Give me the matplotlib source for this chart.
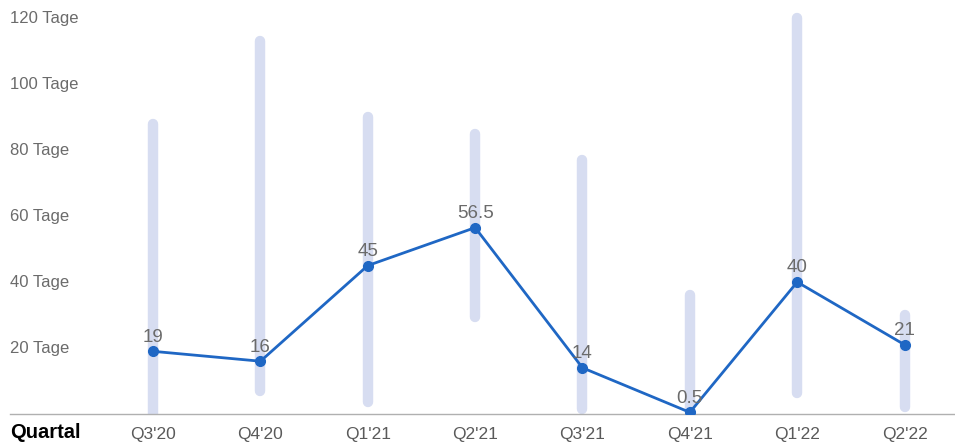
import matplotlib
matplotlib.use("Agg")
import matplotlib.pyplot as plt

plt.rcParams["font.family"] = ["Liberation Sans", "DejaVu Sans"]

# Quarterly median duration with min/max range per quarter
quarters = ["Q3'20", "Q4'20", "Q1'21", "Q2'21", "Q3'21", "Q4'21", "Q1'22", "Q2'22"]
median_days = [19, 16, 45, 56.5, 14, 0.5, 40, 21]
range_low = [0, 7, 3.5, 29.5, 1.5, 0.5, 6.5, 2]
range_high = [88, 113, 90, 85, 77, 36, 120, 30]
y_ticks = [20, 40, 60, 80, 100, 120]

LINE_BLUE = "#1f67c4"
RANGE_COLOR = "#d7ddf1"
LABEL_GREY = "#6b6b6b"

fig = plt.figure(figsize=(9.55, 4.45), dpi=100)
ax = fig.add_axes([10 / 955, (445 - 414) / 445, 945 / 955, 414 / 445])

x = list(range(len(quarters)))

rng = ax.vlines(x, range_low, range_high, color=RANGE_COLOR, linewidth=7.5, zorder=1)
rng.set_capstyle("round")

ax.plot(x, median_days, color=LINE_BLUE, linewidth=2.0, marker="o",
        markersize=7, zorder=3)

for xi, v in zip(x, median_days):
    txt = f"{v:g}"
    ax.annotate(txt, (xi, v), xytext=(0, 4), textcoords="offset points",
                ha="center", va="bottom", fontsize=13.5, color=LABEL_GREY, zorder=4)

ax.set_xlim(-1.333, 7.47)
ax.set_ylim(0, 125.5)

# y labels drawn inside the plot area on the left
for t in y_ticks:
    ax.text(0.0, t, f"{t} Tage", transform=ax.get_yaxis_transform(),
            ha="left", va="center", fontsize=12, color=LABEL_GREY)

ax.set_yticks([])
ax.set_xticks(x)
ax.set_xticklabels(quarters, fontsize=12.5, color="#5a5a5a")
ax.tick_params(axis="x", length=0, pad=9)

for side in ["top", "right", "left"]:
    ax.spines[side].set_visible(False)
ax.spines["bottom"].set_color("#b0b0b0")
ax.spines["bottom"].set_linewidth(1)

ax.text(0.0, -0.045, "Quartal", transform=ax.transAxes, ha="left", va="center",
        fontsize=14.5, fontweight="bold", color="black")

fig.savefig("out.png", dpi=100)
